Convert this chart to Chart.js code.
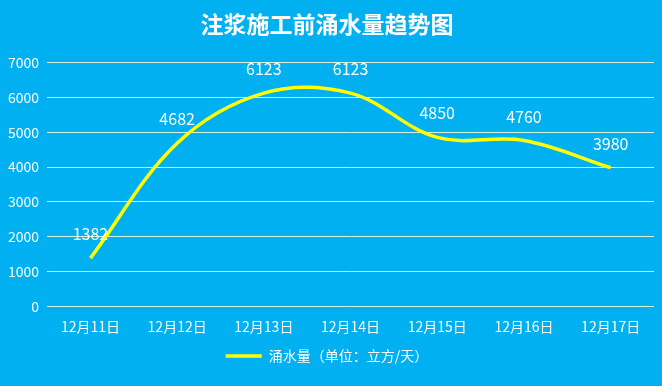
<!DOCTYPE html>
<html>
<head>
<meta charset="utf-8">
<script src="https://cdn.jsdelivr.net/npm/chart.js@4"></script>
<style>
  html, body { margin: 0; padding: 0; background: #00B0F0; }
  #wrap { width: 662px; height: 386px; }
</style>
</head>
<body>
<div id="wrap"><canvas id="water_chart" width="662" height="386"></canvas></div>
<script>
const categories = ["12月11日", "12月12日", "12月13日", "12月14日", "12月15日", "12月16日", "12月17日"];
const inflow = [1382, 4682, 6123, 6123, 4850, 4760, 3980];
const yTicks = [0, 1000, 2000, 3000, 4000, 5000, 6000, 7000];
const fontFamily = "'Noto Sans CJK SC', 'Noto Sans', sans-serif";

// draw value labels above each point
const valueLabels = {
  id: "valueLabels",
  afterDatasetsDraw(chart) {
    const c = chart.ctx;
    const meta = chart.getDatasetMeta(0);
    c.save();
    c.fillStyle = "#ffffff";
    c.font = "16px " + fontFamily;
    c.textAlign = "center";
    c.textBaseline = "middle";
    meta.data.forEach((pt, i) => {
      c.fillText(String(inflow[i]), pt.x, pt.y - 24);
    });
    c.restore();
  },
};

const ctx = document.getElementById("water_chart").getContext("2d");
const chart = new Chart(ctx, {
  type: "line",
  data: {
    labels: categories,
    datasets: [
      {
        label: "涌水量（单位：立方/天）",
        data: inflow,
        borderColor: "#FFFF00",
        backgroundColor: "#FFFF00",
        borderWidth: 3.5,
        tension: 0.36,
        pointRadius: 0,
        fill: false,
      },
    ],
  },
  options: {
    responsive: false,
    animation: false,
    layout: { padding: { left: 0, right: 8, top: 2, bottom: 13 } },
    plugins: {
      title: {
        display: true,
        text: "注浆施工前涌水量趋势图",
        color: "#ffffff",
        font: { family: fontFamily, size: 23, weight: "bold" },
        padding: { top: 8, bottom: 25 },
      },
      legend: {
        display: true,
        position: "bottom",
        labels: {
          color: "#ffffff",
          font: { family: fontFamily, size: 14 },
          usePointStyle: true,
          pointStyle: "line",
          pointStyleWidth: 36,
        },
      },
      tooltip: { enabled: false },
    },
    scales: {
      x: {
        offset: true,
        grid: { display: false, offset: true },
        border: { display: false },
        ticks: { color: "#ffffff", font: { family: fontFamily, size: 14 }, padding: 4 },
      },
      y: {
        min: 0,
        max: 7000,
        afterBuildTicks: (axis) => {
          axis.ticks = yTicks.map((v) => ({ value: v }));
        },
        grid: { color: "#d8f0dc", lineWidth: 1, drawTicks: false },
        border: { display: false },
        ticks: {
          color: "#ffffff",
          font: { family: fontFamily, size: 14 },
          padding: 8,
          callback: (v) => String(v),
        },
      },
    },
  },
  plugins: [valueLabels],
});
</script>
</body>
</html>
